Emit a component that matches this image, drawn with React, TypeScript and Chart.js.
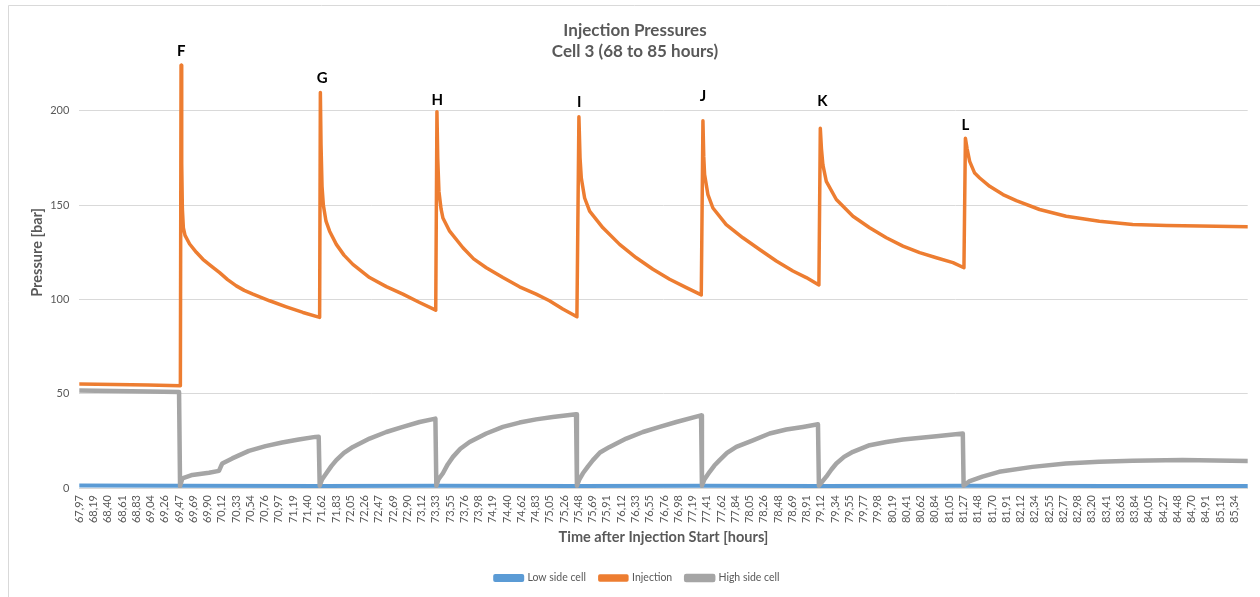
import React, { useEffect, useRef } from 'react';
import { Chart, registerables } from 'chart.js';

Chart.register(...registerables);

// ---------- Data ----------
const xTickLabels = [
  '67,97', '68,19', '68,40', '68,61', '68,83', '69,04', '69,26', '69,47', '69,69', '69,90',
  '70,12', '70,33', '70,54', '70,76', '70,97', '71,19', '71,40', '71,62', '71,83', '72,05',
  '72,26', '72,47', '72,69', '72,90', '73,12', '73,33', '73,55', '73,76', '73,98', '74,19',
  '74,40', '74,62', '74,83', '75,05', '75,26', '75,48', '75,69', '75,91', '76,12', '76,33',
  '76,55', '76,76', '76,98', '77,19', '77,41', '77,62', '77,84', '78,05', '78,26', '78,48',
  '78,69', '78,91', '79,12', '79,34', '79,55', '79,77', '79,98', '80,19', '80,41', '80,62',
  '80,84', '81,05', '81,27', '81,48', '81,70', '81,91', '82,12', '82,34', '82,55', '82,77',
  '82,98', '83,20', '83,41', '83,63', '83,84', '84,05', '84,27', '84,48', '84,70', '84,91',
  '85,13', '85,34',
];
const xFirst = 67.97;
const xLastLabel = 85.34;
const xEnd = 85.54;

const yTickValues = [0, 50, 100, 150, 200];
const yMax = 250;

const lowTime = [67.97, 69.5, 71.6, 73.35, 75.47, 77.35, 79.1, 81.27, 83.5, 85.54];
const lowValue = [1.3, 1.2, 1.1, 1.2, 1.1, 1.2, 1.1, 1.2, 1.1, 1.1];

const injTime = [
  67.97, 68.5, 69.0, 69.49, 69.5, 69.51, 69.52, 69.535, 69.56, 69.629, 69.73, 69.829, 69.95, 70.08,
  70.2, 70.331, 70.45, 70.581, 70.832, 71.083, 71.333, 71.584,
  71.595, 71.605, 71.62, 71.64, 71.68, 71.734, 71.835, 71.95, 72.084, 72.335, 72.587, 72.836, 73.087, 73.33,
  73.348, 73.36, 73.378, 73.41, 73.438, 73.539, 73.739, 73.9, 74.09, 74.34, 74.59, 74.84, 75.04, 75.24, 75.453,
  75.483, 75.5, 75.519, 75.569, 75.644, 75.844, 76.095, 76.346, 76.596, 76.847, 77.098, 77.323,
  77.348, 77.36, 77.373, 77.423, 77.498, 77.698, 77.949, 78.2, 78.451, 78.701, 78.902, 79.092,
  79.113, 79.13, 79.152, 79.203, 79.354, 79.604, 79.855, 80.106, 80.356, 80.607, 80.858, 81.108, 81.273,
  81.295, 81.32, 81.359, 81.434, 81.51, 81.66, 81.86, 82.06, 82.41, 82.81, 83.31, 83.81, 84.32, 84.82, 85.54,
];
const injValue = [
  55.2, 54.9, 54.6, 54.2, 224.2, 172, 148, 138, 134, 129.4, 125, 121.3, 117.8, 114.2,
  110.5, 107.2, 104.8, 102.8, 99.3, 96.1, 93.1, 90.5,
  209.8, 182, 160, 150, 141.5, 136.2, 129.2, 123.5, 118.6, 111.6, 106.8, 102.8, 98.4, 94.3,
  199.6, 175, 157.3, 148, 143.2, 136.2, 127.4, 121.5, 116.8, 111.6, 106.7, 102.8, 99.3, 94.9, 90.8,
  196.9, 175, 164.4, 153.8, 146.8, 138, 129.2, 122.1, 116, 110.7, 106.3, 102.4,
  194.7, 176, 166.2, 155.6, 148.5, 139.7, 132.7, 126.5, 120.4, 115.1, 111.6, 107.7,
  190.8, 180, 171.4, 162.6, 153, 144.1, 138, 132.7, 128.3, 124.8, 122.1, 119.5, 116.8,
  185.5, 180, 173.2, 167, 164.4, 160, 155.6, 152.4, 147.7, 144.1, 141.5, 139.7, 139.2, 138.9, 138.5,
];

const highTime = [
  67.97, 68.5, 69.0, 69.47, 69.485, 69.52, 69.67, 69.92, 70.07, 70.1, 70.12, 70.27, 70.52, 70.77, 71.02, 71.27, 71.52, 71.57,
  71.585, 71.62, 71.685, 71.76, 71.835, 71.95, 72.085, 72.335, 72.587, 72.836, 73.087, 73.325,
  73.339, 73.37, 73.438, 73.51, 73.589, 73.7, 73.839, 74.09, 74.34, 74.59, 74.84, 75.09, 75.44,
  75.453, 75.49, 75.543, 75.62, 75.694, 75.8, 75.945, 76.195, 76.446, 76.697, 76.948, 77.32,
  77.333, 77.37, 77.449, 77.52, 77.599, 77.71, 77.85, 78.1, 78.351, 78.602, 78.852, 79.078,
  79.092, 79.203, 79.28, 79.354, 79.47, 79.604, 79.855, 80.106, 80.356, 80.858, 81.256,
  81.268, 81.35, 81.551, 81.802, 82.303, 82.805, 83.306, 83.808, 84.56, 85.54,
];
const highValue = [
  51.7, 51.4, 51.2, 50.9, 1.0, 5.1, 6.9, 8.1, 9.1, 11.5, 13, 15.7, 19.7, 22.2, 24.1, 25.7, 27.1, 27.2,
  1.2, 4.5, 7.8, 11.6, 14.8, 18.6, 21.8, 26.2, 29.7, 32.4, 35, 36.8,
  1.2, 4.5, 7.8, 12.5, 16.5, 20.8, 24.4, 28.9, 32.4, 34.7, 36.4, 37.6, 39.1,
  1.2, 4.5, 7.8, 11.5, 14.8, 18.8, 21.8, 26.2, 29.7, 32.4, 35, 38.5,
  1.2, 4.5, 8.6, 11.9, 14.8, 18.6, 21.8, 25.3, 28.9, 31, 32.4, 33.8,
  1.2, 6, 9.8, 13, 16.5, 19.2, 22.7, 24.4, 25.7, 27.5, 28.9,
  1.2, 3.5, 6, 8.6, 11.2, 13, 13.9, 14.4, 14.8, 14.3,
];

const peakLabels = ['F', 'G', 'H', 'I', 'J', 'K', 'L'];
const peakLabelTime = [69.504, 71.624, 73.354, 75.486, 77.348, 79.143, 81.294];
const peakLabelValue = [231.8, 217.6, 205.8, 204.5, 207.6, 205.3, 192.6];

const titleLines = ['Injection Pressures', 'Cell 3 (68 to 85 hours)'];

// ---------- Component ----------
const FONT = 'Lato, "Open Sans", sans-serif';
const TEXT = '#595959';

export default function App() {
  const ref = useRef<HTMLCanvasElement | null>(null);

  useEffect(() => {
    if (!ref.current) return;
    const step = (xLastLabel - xFirst) / (xTickLabels.length - 1);
    const toPts = (t: number[], v: number[]) => t.map((x, i) => ({ x, y: v[i] }));

    const framePlugin = {
      id: 'frame',
      beforeDraw(chart: any) {
        const { ctx, width, height } = chart;
        ctx.save();
        ctx.fillStyle = '#ffffff';
        ctx.fillRect(0, 0, width, height);
        ctx.strokeStyle = '#D9D9D9';
        ctx.lineWidth = 1;
        ctx.beginPath();
        ctx.moveTo(8.5, height);
        ctx.lineTo(8.5, 5.5);
        ctx.lineTo(width, 5.5);
        ctx.stroke();
        ctx.restore();
      },
    };

    const titlePlugin = {
      id: 'twoLineTitle',
      afterDraw(chart: any) {
        const { ctx } = chart;
        ctx.save();
        ctx.fillStyle = TEXT;
        ctx.font = `bold 17px ${FONT}`;
        ctx.textAlign = 'center';
        ctx.textBaseline = 'middle';
        ctx.fillText(titleLines[0], 635, 31);
        ctx.fillText(titleLines[1], 635, 52);
        ctx.restore();
      },
    };

    const peakPlugin = {
      id: 'peakLabels',
      afterDatasetsDraw(chart: any) {
        const { ctx, scales } = chart;
        ctx.save();
        ctx.fillStyle = '#000000';
        ctx.font = `bold 15px ${FONT}`;
        ctx.textAlign = 'center';
        ctx.textBaseline = 'middle';
        peakLabels.forEach((lab, i) => {
          const x = scales.x.getPixelForValue(peakLabelTime[i]);
          const y = scales.y.getPixelForValue(peakLabelValue[i]);
          ctx.fillText(lab, x, y);
        });
        ctx.restore();
      },
    };

    const common = {
      pointRadius: 0,
      pointHoverRadius: 0,
      tension: 0,
      fill: false,
      borderJoinStyle: 'round' as const,
      borderCapStyle: 'round' as const,
    };

    const chart = new Chart(ref.current, {
      type: 'line',
      data: {
        datasets: [
          {
            ...common,
            label: 'Low side cell',
            data: toPts(lowTime, lowValue),
            borderColor: '#5B9BD5',
            backgroundColor: '#5B9BD5',
            borderWidth: 4,
            order: 2,
          },
          {
            ...common,
            label: 'Injection',
            data: toPts(injTime, injValue),
            borderColor: '#ED7D31',
            backgroundColor: '#ED7D31',
            borderWidth: 3.5,
            order: 1,
          },
          {
            ...common,
            label: 'High side cell',
            data: toPts(highTime, highValue),
            borderColor: '#A5A5A5',
            backgroundColor: '#A5A5A5',
            borderWidth: 4.5,
            order: 0,
          },
        ],
      },
      options: {
        animation: false,
        responsive: false,
        devicePixelRatio: 1,
        events: [],
        layout: { padding: { left: 27, right: 12.3, top: 14.6, bottom: 3.75 } },
        plugins: {
          title: { display: false },
          tooltip: { enabled: false },
          legend: {
            position: 'bottom',
            labels: {
              boxWidth: 27,
              boxHeight: 4,
              padding: 14,
              color: TEXT,
              font: { family: FONT, size: 10.5 },
              sort: (a: any, b: any) => a.datasetIndex - b.datasetIndex,
            },
          },
        },
        scales: {
          x: {
            type: 'linear',
            min: xFirst,
            max: xEnd,
            afterBuildTicks: (s: any) => {
              s.ticks = xTickLabels.map((_, i) => ({ value: xFirst + i * step }));
            },
            afterFit: (s: any) => {
              s.height = 70.75;
            },
            ticks: {
              autoSkip: false,
              minRotation: 90,
              maxRotation: 90,
              padding: 7,
              color: TEXT,
              font: { family: FONT, size: 11 },
              callback: (_v: any, i: number) => xTickLabels[i],
            },
            grid: { display: false, drawTicks: false },
            border: { display: true, color: '#D9D9D9' },
            title: {
              display: true,
              text: 'Time after Injection Start [hours]',
              color: TEXT,
              font: { family: FONT, size: 14.5, weight: 'bold' },
              padding: { top: 0, bottom: 12.6 },
            },
          },
          y: {
            type: 'linear',
            min: 0,
            max: yMax,
            afterBuildTicks: (s: any) => {
              s.ticks = yTickValues.map((v) => ({ value: v }));
            },
            afterFit: (s: any) => {
              s.width = 52.3;
            },
            ticks: {
              padding: 10,
              color: TEXT,
              font: { family: FONT, size: 11 },
              callback: (v: any) => String(v),
            },
            grid: { color: '#D9D9D9', lineWidth: 1, drawTicks: false },
            border: { display: false },
            title: {
              display: true,
              text: 'Pressure [bar]',
              color: TEXT,
              font: { family: FONT, size: 14.5, weight: 'bold' },
              padding: { top: 1.3, bottom: 0 },
            },
          },
        },
      } as any,
      plugins: [framePlugin, titlePlugin, peakPlugin],
    });

    return () => chart.destroy();
  }, []);

  return (
    <div style={{ position: 'fixed', left: 0, top: 0, width: 1260, height: 597, background: '#ffffff' }}>
      <canvas ref={ref} width={1260} height={597} style={{ display: 'block', width: 1260, height: 597 }} />
    </div>
  );
}
